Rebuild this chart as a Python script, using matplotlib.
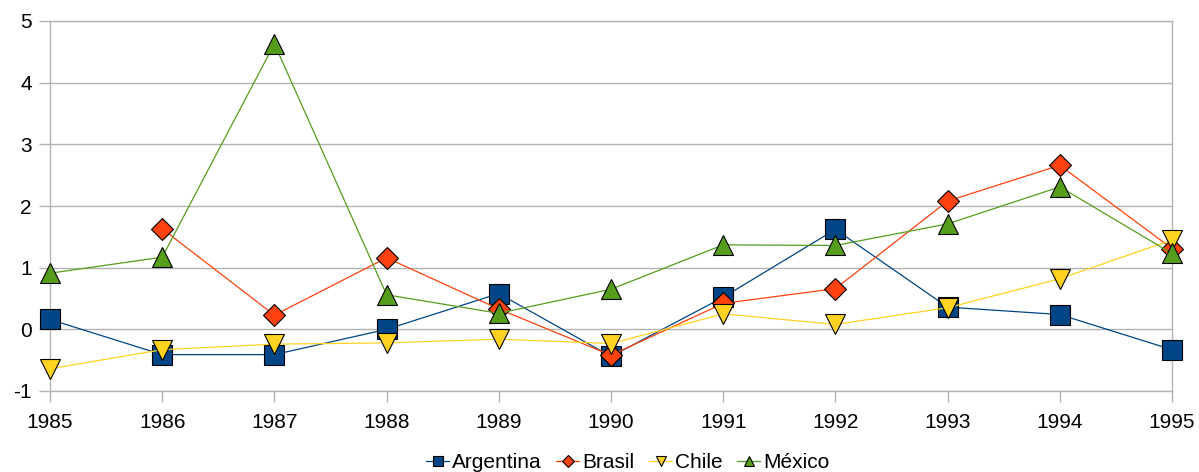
import matplotlib.pyplot as plt

plt.rcParams['font.family'] = ['Liberation Sans', 'DejaVu Sans']
plt.rcParams['axes.unicode_minus'] = False

years = [1985, 1986, 1987, 1988, 1989, 1990, 1991, 1992, 1993, 1994, 1995]
argentina = [0.16, -0.41, -0.41, 0.00, 0.58, -0.44, 0.52, 1.62, 0.36, 0.24, -0.33]
brasil = [None, 1.63, 0.23, 1.16, 0.33, -0.42, 0.42, 0.66, 2.08, 2.66, 1.31]
chile = [-0.64, -0.33, -0.24, -0.22, -0.16, -0.23, 0.25, 0.08, 0.35, 0.82, 1.45]
mexico = [0.91, 1.17, 4.63, 0.56, 0.26, 0.65, 1.37, 1.36, 1.71, 2.31, 1.23]

series = [
    ('Argentina', argentina, '#004586', 's', 14),
    ('Brasil', brasil, '#ff420e', 'D', 11.5),
    ('Chile', chile, '#ffd320', 'v', 14),
    ('México', mexico, '#579d1c', '^', 14),
]

fig = plt.figure(figsize=(11.99, 4.72), dpi=100)
ax = fig.add_axes([50 / 1199, 81 / 472, 1122 / 1199, 370 / 472])

for name, vals, color, marker, ms in series:
    xs = [x for x, v in zip(years, vals) if v is not None]
    ys = [v for v in vals if v is not None]
    ax.plot(xs, ys, color=color, lw=0.9, marker=marker, markersize=ms,
            markerfacecolor=color, markeredgecolor='black', markeredgewidth=0.8,
            label=name, clip_on=False, zorder=3)

ax.set_xlim(1985, 1995)
ax.set_ylim(-1, 5)
ax.set_xticks(years)
ax.set_yticks(range(-1, 6))
ax.grid(axis='y', color='#b3b3b3', lw=1)
ax.set_axisbelow(True)
for s in ax.spines.values():
    s.set_color('#b3b3b3')
    s.set_linewidth(1)
ax.tick_params(axis='both', colors='#b3b3b3', labelcolor='black', labelsize=15,
               length=8, width=1)
ax.tick_params(axis='y', pad=5)
ax.tick_params(axis='x', pad=8)

ax.legend(loc='upper center', bbox_to_anchor=(0.515, -0.14), ncol=4, frameon=False,
          fontsize=15, markerscale=0.5, handlelength=1.1, handletextpad=0.15,
          columnspacing=0.7, borderpad=0)

fig.savefig('out.png', dpi=100)
